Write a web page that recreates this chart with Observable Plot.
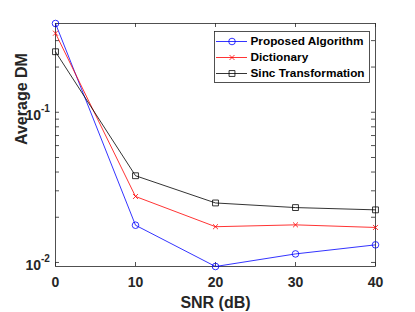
<!DOCTYPE html>
<html>
<head>
<meta charset="utf-8">
<script src="https://cdn.jsdelivr.net/npm/d3@7"></script>
<script src="https://cdn.jsdelivr.net/npm/@observablehq/plot@0.6"></script>
<style>
  html, body { margin: 0; padding: 0; background: #fff; }
  #wrap { position: relative; width: 415px; height: 312px; }
  #wrap > svg { position: absolute; left: 0; top: 0; }
  #wrap > svg.legend { left: 214px; top: 31px; }
</style>
</head>
<body>
<div id="wrap"></div>
<script>
// ---- data ----
const snr = [0, 10, 20, 30, 40];
const seriesNames = ["Proposed Algorithm", "Dictionary", "Sinc Transformation"];
const proposed   = [0.390, 0.0177, 0.0094, 0.0114, 0.0131];
const dictionary = [0.336, 0.0275, 0.0173, 0.0178, 0.0171];
const sinc       = [0.253, 0.0378, 0.0249, 0.0232, 0.0224];
const xTicks = [0, 10, 20, 30, 40];
const yMajor = [0.01, 0.1];
const yMinor = [0.02, 0.03, 0.04, 0.05, 0.06, 0.07, 0.08, 0.09, 0.2, 0.3];

const colors = ["#0000ff", "#ff0000", "#000000"];
const symbols = ["circle", "times", "square"];
const radii = [3.3, 2.4, 3.3];

const seriesValues = [proposed, dictionary, sinc];
const table = [];
seriesNames.forEach((name, s) => snr.forEach((x, i) => table.push({series: name, snr: x, value: seriesValues[s][i]})));

const W = 415, H = 312;
const mL = 55, mR = 40, mT = 23, mB = 46;
const innerW = W - mL - mR, innerH = H - mT - mB;
const tickLen = 4;
const font = "Liberation Sans, Arial, Helvetica, sans-serif";

const allY = table.map(d => d.value);
const yDomain = [d3.min(allY), d3.max(allY)];

const marks = [];
// ticks (inward)
marks.push(Plot.tickX(xTicks, {x: d => d, insetTop: innerH - tickLen, stroke: "#262626", strokeWidth: 0.8}));
marks.push(Plot.tickX(xTicks, {x: d => d, insetBottom: innerH - tickLen, stroke: "#262626", strokeWidth: 0.8}));
const yAll = yMajor.concat(yMinor);
marks.push(Plot.tickY(yAll, {y: d => d, insetRight: innerW - tickLen, stroke: "#262626", strokeWidth: 0.8}));
marks.push(Plot.tickY(yAll, {y: d => d, insetLeft: innerW - tickLen, stroke: "#262626", strokeWidth: 0.8}));
marks.push(Plot.frame({stroke: "#262626", strokeWidth: 0.8}));

// series
seriesNames.forEach((name, s) => {
  const rows = table.filter(d => d.series === name);
  marks.push(Plot.line(rows, {x: "snr", y: "value", stroke: colors[s], strokeWidth: 0.8}));
  marks.push(Plot.dot(rows, {x: "snr", y: "value", stroke: colors[s], symbol: symbols[s], r: radii[s], strokeWidth: 0.8, fill: "none"}));
});

// tick labels
marks.push(Plot.text(xTicks, {x: d => d, frameAnchor: "bottom", dy: 16, text: d => String(d),
  fontSize: 14, fontWeight: "bold", fill: "#262626", lineAnchor: "middle"}));
marks.push(Plot.text(yMajor, {y: d => d, frameAnchor: "left", dx: -14.5, dy: 3, text: () => "10",
  textAnchor: "end", fontSize: 14, fontWeight: "bold", fill: "#262626", lineAnchor: "middle"}));
marks.push(Plot.text(yMajor, {y: d => d, frameAnchor: "left", dx: -14.5, dy: -3.5, text: d => "-" + String(-Math.round(Math.log10(d))),
  textAnchor: "start", fontSize: 10, fontWeight: "bold", fill: "#262626", lineAnchor: "middle"}));

// axis titles
marks.push(Plot.text(["SNR (dB)"], {frameAnchor: "bottom", dy: 36, text: d => d,
  fontSize: 16, fontWeight: "bold", fill: "#262626", lineAnchor: "middle"}));
marks.push(Plot.text(["Average DM"], {frameAnchor: "left", dx: -34, rotate: -90, text: d => d,
  fontSize: 16, fontWeight: "bold", fill: "#262626", lineAnchor: "middle"}));

const chart = Plot.plot({
  width: W, height: H,
  marginLeft: mL, marginRight: mR, marginTop: mT, marginBottom: mB,
  style: {fontFamily: font, background: "#fff"},
  x: {domain: [0, 40], axis: null},
  y: {type: "log", domain: yDomain, axis: null},
  marks
});

// legend (a small Plot of its own, placed inside the axes box)
const legendMarks = [Plot.frame({stroke: "#262626", strokeWidth: 0.8, fill: "#fff"})];
seriesNames.forEach((name, s) => {
  legendMarks.push(Plot.ruleY([name], {y: d => d, x1: 0, x2: 1, stroke: colors[s], strokeWidth: 0.8}));
  legendMarks.push(Plot.dot([name], {y: d => d, x: 0.5, symbol: symbols[s], r: radii[s], stroke: colors[s], strokeWidth: 0.8, fill: "none"}));
});
legendMarks.push(Plot.text(seriesNames, {y: d => d, x: 1, dx: 3, text: d => d, textAnchor: "start",
  fontSize: 11.8, fontWeight: "bold", fill: "#000", lineAnchor: "middle"}));
const legend = Plot.plot({
  width: 155, height: 51,
  margin: 0,
  style: {fontFamily: font, background: "transparent", overflow: "visible"},
  x: {type: "linear", domain: [0, 1], range: [2, 33], axis: null},
  y: {type: "point", domain: seriesNames, range: [10, 42], padding: 0, axis: null},
  marks: legendMarks
});
legend.classList.add("legend");

const wrap = document.getElementById("wrap");
wrap.appendChild(chart);
wrap.appendChild(legend);
</script>
</body>
</html>
